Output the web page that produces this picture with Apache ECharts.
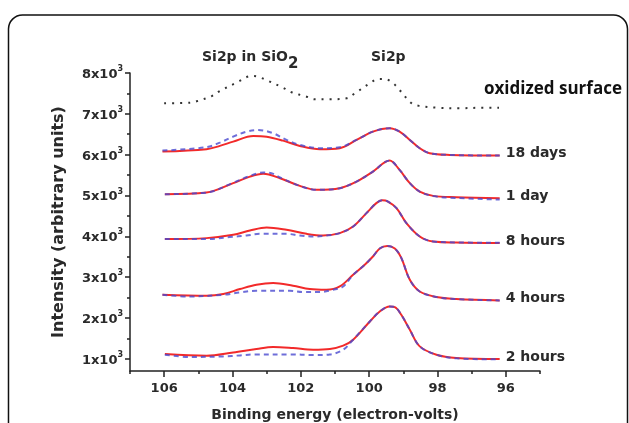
<!DOCTYPE html>
<html>
<head>
<meta charset="utf-8">
<script src="https://cdn.jsdelivr.net/npm/echarts@6/dist/echarts.min.js"></script>
<style>
  html, body { margin: 0; padding: 0; background: #fff; }
  #chart { width: 629px; height: 423px; }
</style>
</head>
<body>
<div id="chart"></div>
<script>
// ── data (binding energy eV, intensity) ─────────────────
const X_MAJOR = [96, 98, 100, 102, 104, 106]
const X_MINOR = [95, 97, 99, 101, 103, 105, 107]
const Y_MAJOR = [1000, 2000, 3000, 4000, 5000, 6000, 7000, 8000]
const Y_MINOR = [1500, 2500, 3500, 4500, 5500, 6500, 7500]

const oxidized = [
  [106.0, 7259], [105.25, 7273], [105.05, 7307], [104.6, 7437], [104.37, 7560],
  [103.88, 7763], [103.44, 7927], [103.25, 7909], [102.97, 7812], [102.52, 7640],
  [102.27, 7528], [101.83, 7420], [101.59, 7356], [101.15, 7356], [100.66, 7381],
  [100.42, 7503], [99.98, 7748], [99.74, 7853], [99.54, 7853], [99.3, 7748],
  [99.11, 7584], [98.76, 7259], [98.52, 7192], [98.03, 7151], [97.35, 7136],
  [96.67, 7151], [96.2, 7151],
]

const red18d = [
  [106.05, 6074], [104.76, 6133], [104.37, 6214], [103.98, 6319], [103.39, 6458],
  [103.0, 6441], [102.52, 6343], [102.03, 6214], [101.44, 6133], [100.86, 6157],
  [100.37, 6360], [99.89, 6564], [99.4, 6647], [99.11, 6564], [98.81, 6360],
  [98.52, 6157], [98.23, 6035], [97.64, 5993], [96.18, 5976],
]
const blue18d = [
  [106.05, 6099], [104.76, 6182], [104.37, 6294], [103.98, 6441], [103.59, 6564],
  [103.25, 6605], [102.81, 6524], [102.42, 6361], [102.03, 6238], [101.44, 6157],
  [100.86, 6182], [100.37, 6360], [99.89, 6564], [99.4, 6647], [99.11, 6564],
  [98.81, 6360], [98.52, 6157], [98.23, 6035], [97.64, 5993], [96.18, 5976],
]

const red1d = [
  [105.98, 5032], [104.76, 5071], [103.98, 5301], [103.49, 5462], [103.1, 5529],
  [102.61, 5423], [102.03, 5235], [101.54, 5137], [100.86, 5179], [100.37, 5340],
  [99.89, 5585], [99.4, 5854], [99.11, 5626], [98.81, 5301], [98.52, 5095],
  [98.13, 4990], [97.45, 4958], [96.18, 4934],
]
const blue1d = [
  [105.98, 5032], [104.76, 5071], [103.98, 5310], [103.49, 5480], [103.1, 5561],
  [102.86, 5546], [102.61, 5440], [102.03, 5235], [101.54, 5137], [100.86, 5179],
  [100.37, 5340], [99.89, 5585], [99.4, 5854], [99.11, 5626], [98.81, 5301],
  [98.52, 5095], [98.13, 4985], [97.45, 4940], [96.18, 4900],
]

const red8h = [
  [105.98, 3931], [104.76, 3955], [103.98, 4036], [103.49, 4141], [103.0, 4215],
  [102.42, 4158], [101.83, 4060], [101.35, 4019], [100.86, 4077], [100.47, 4239],
  [100.08, 4567], [99.79, 4812], [99.62, 4880], [99.45, 4851], [99.2, 4689],
  [98.91, 4322], [98.52, 3994], [98.13, 3872], [97.45, 3847], [96.18, 3833],
]
const blue8h = [
  [105.98, 3931], [104.76, 3931], [104.08, 3980], [103.59, 4019], [103.2, 4060],
  [102.42, 4060], [102.03, 4019], [101.64, 3994], [101.25, 4019], [100.86, 4077],
  [100.47, 4239], [100.08, 4567], [99.79, 4812], [99.62, 4880], [99.45, 4851],
  [99.2, 4689], [98.91, 4322], [98.52, 3994], [98.13, 3872], [97.45, 3850],
  [96.18, 3840],
]

const red4h = [
  [106.05, 2568], [104.76, 2543], [104.27, 2585], [103.78, 2707], [103.3, 2812],
  [102.81, 2854], [102.23, 2788], [101.74, 2707], [101.25, 2690], [100.86, 2771],
  [100.47, 3057], [100.13, 3302], [99.89, 3505], [99.69, 3700], [99.47, 3760],
  [99.25, 3700], [99.06, 3470], [98.81, 2935], [98.52, 2648], [98.03, 2511],
  [97.45, 2462], [96.18, 2428],
]
const blue4h = [
  [106.05, 2568], [105.25, 2526], [104.27, 2568], [103.78, 2624], [103.3, 2666],
  [102.32, 2666], [101.93, 2634], [101.44, 2634], [101.06, 2690], [100.76, 2771],
  [100.47, 3057], [100.13, 3302], [99.89, 3505], [99.69, 3700], [99.47, 3760],
  [99.25, 3700], [99.06, 3470], [98.81, 2935], [98.52, 2648], [98.03, 2511],
  [97.45, 2462], [96.18, 2428],
]

const red2h = [
  [105.98, 1117], [104.76, 1075], [103.98, 1156], [103.3, 1239], [102.81, 1288],
  [102.23, 1263], [101.64, 1222], [101.15, 1239], [100.76, 1320], [100.47, 1467],
  [99.98, 1914], [99.69, 2159], [99.4, 2281], [99.25, 2266], [99.06, 2078],
  [98.81, 1711], [98.52, 1303], [98.03, 1099], [97.45, 1019], [96.18, 994],
]
const blue2h = [
  [105.98, 1099], [105.25, 1043], [104.27, 1058], [103.78, 1082], [103.3, 1107],
  [102.32, 1107], [101.64, 1092], [101.15, 1107], [100.76, 1222], [100.47, 1467],
  [99.98, 1914], [99.69, 2159], [99.4, 2281], [99.25, 2266], [99.06, 2078],
  [98.81, 1711], [98.52, 1303], [98.03, 1099], [97.45, 1010], [96.18, 985],
]

const curves = [
  { label: '18 days', red: red18d, blue: blue18d },
  { label: '1 day',   red: red1d,  blue: blue1d },
  { label: '8 hours', red: red8h,  blue: blue8h },
  { label: '4 hours', red: red4h,  blue: blue4h },
  { label: '2 hours', red: red2h,  blue: blue2h },
]

// ── style ───────────────────────────────────────────────
const FONT   = 'DejaVu Sans'
const INK    = '#2a2a2a'
const RED    = '#f22a2a'
const BLUE   = '#4a4ad0'
const AXIS   = { color: '#222', width: 1.5 }

function redSeries(c) {
  return {
    type: 'line', name: c.label, data: c.red, smooth: 0.35, symbol: 'none',
    lineStyle: { color: RED, width: 2 },
    // x axis is inverted, so push the end label to the right by hand
    endLabel: {
      show: true, formatter: c.label, align: 'left', distance: 0, offset: [6, -2],
      color: INK, fontFamily: FONT, fontWeight: 'bold', fontSize: 14,
    },
    z: 3,
  }
}
function blueSeries(c) {
  return {
    type: 'line', data: c.blue, smooth: 0.35, symbol: 'none',
    lineStyle: { color: BLUE, width: 2, type: [5, 4], opacity: 0.8 },
    z: 4,
  }
}

const chart = echarts.init(document.getElementById('chart'))

chart.setOption({
  animation: false,
  grid: { left: 130, right: 89, top: 73, bottom: 52, outerBoundsMode: 'none' },
  xAxis: [
    {
      type: 'value', inverse: true, min: 95, max: 107, position: 'bottom',
      name: 'Binding energy (electron-volts)', nameLocation: 'middle', nameGap: 37,
      nameTextStyle: { color: INK, fontFamily: FONT, fontWeight: 'bold', fontSize: 14 },
      axisLine: { onZero: false, lineStyle: AXIS },
      axisTick: { customValues: X_MAJOR, length: 6, lineStyle: AXIS },
      axisLabel: { customValues: X_MAJOR, margin: 11, color: INK, fontFamily: FONT, fontWeight: 'bold', fontSize: 13 },
      splitLine: { show: false },
    },
    {
      type: 'value', inverse: true, min: 95, max: 107, position: 'bottom',
      axisLine: { show: false },
      axisTick: { customValues: X_MINOR, length: 3, lineStyle: AXIS },
      axisLabel: { show: false },
      splitLine: { show: false },
    },
  ],
  yAxis: [
    {
      type: 'value', min: 700, max: 8000, position: 'left',
      name: 'Intensity (arbitrary units)', nameLocation: 'middle', nameGap: 63,
      nameTextStyle: { color: INK, fontFamily: FONT, fontWeight: 'bold', fontSize: 16 },
      axisLine: { show: true, onZero: false, lineStyle: AXIS },
      axisTick: { show: true, customValues: Y_MAJOR, length: 5, lineStyle: AXIS },
      axisLabel: {
        customValues: Y_MAJOR, margin: 7,
        formatter: v => `{n|${v / 1000}x10}{s|3}`,
        rich: {
          n: { color: INK, fontFamily: FONT, fontWeight: 'bold', fontSize: 13, lineHeight: 16, verticalAlign: 'bottom' },
          s: { color: INK, fontFamily: FONT, fontWeight: 'bold', fontSize: 8, lineHeight: 8, verticalAlign: 'top' },
        },
      },
      splitLine: { show: false },
    },
    {
      type: 'value', min: 700, max: 8000, position: 'left',
      axisLine: { show: false },
      axisTick: { show: true, customValues: Y_MINOR, length: 3, lineStyle: AXIS },
      axisLabel: { show: false },
      splitLine: { show: false },
    },
  ],
  series: [
    {
      type: 'line', data: oxidized, smooth: 0.35, symbol: 'none',
      lineStyle: { color: '#333', width: 2, type: [2, 6] },
    },
    ...curves.flatMap(c => [redSeries(c), blueSeries(c)]),
  ],
  graphic: [
    {
      type: 'rect', silent: true,
      shape: { x: 8.5, y: 15, width: 619, height: 440, r: 14 },
      style: { fill: 'none', stroke: '#111', lineWidth: 1.5 },
    },
    {
      type: 'text', x: 202, y: 50, silent: true,
      style: {
        text: '{a|Si2p in SiO}{b|2}', verticalAlign: 'top',
        rich: {
          a: { fill: INK, fontFamily: FONT, fontWeight: 'bold', fontSize: 14, lineHeight: 14, verticalAlign: 'top' },
          b: { fill: INK, fontFamily: FONT, fontWeight: 'bold', fontSize: 15, lineHeight: 22, verticalAlign: 'bottom' },
        },
      },
    },
    {
      type: 'text', x: 371, y: 57, silent: true,
      style: { text: 'Si2p', fill: INK, font: `bold 14px "${FONT}"`, verticalAlign: 'middle' },
    },
    {
      type: 'text', x: 484, y: 89, silent: true,
      style: { text: 'oxidized surface', fill: '#111', font: 'bold 17px "Open Sans"', verticalAlign: 'middle' },
    },
  ],
})
</script>
</body>
</html>
